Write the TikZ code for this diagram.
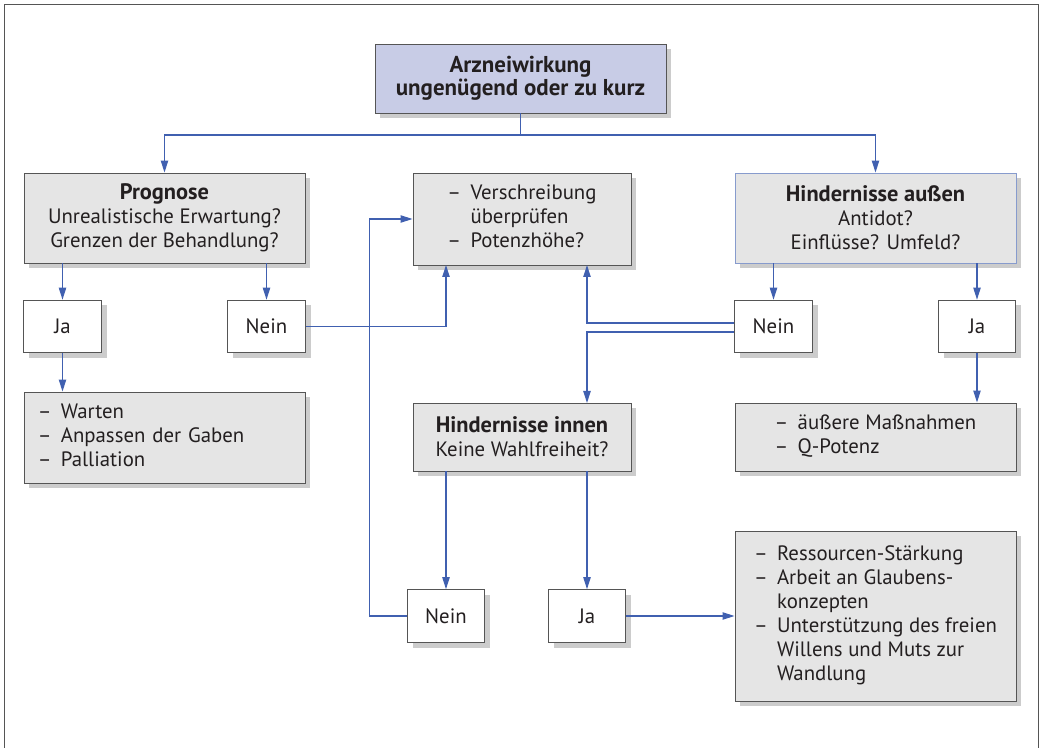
\documentclass[tikz,border=0pt]{standalone}
\usepackage{fontspec}
\setmainfont{PT Sans}
\usetikzlibrary{arrows.meta,shadows,calc}
\definecolor{lineblue}{RGB}{64,96,176}
\definecolor{boxgray}{RGB}{229,229,229}
\definecolor{lavender}{RGB}{200,204,230}
\definecolor{shadowgray}{RGB}{204,204,204}
\definecolor{edgegray}{RGB}{85,85,85}
\definecolor{edgeblue}{RGB}{135,155,205}
\definecolor{textdark}{RGB}{35,31,32}
\newcommand\hd[1]{{\fontsize{16.8}{18}\selectfont\bfseries #1}}
\begin{document}
\begin{tikzpicture}[x=0.75pt,y=-0.75pt,
  every node/.style={font=\fontsize{15.6}{18}\selectfont, text=textdark},
  box/.style={draw=edgegray, line width=0.7pt, inner sep=0pt, align=center,
    drop shadow={shadow xshift=4pt, shadow yshift=-4pt, fill=shadowgray, opacity=1}},
  graybox/.style={box, fill=boxgray},
  whitebox/.style={box, fill=white, minimum width=58pt, minimum height=39.5pt},
  conn/.style={draw=lineblue, line width=0.9pt},
  arr/.style={conn, -{Triangle[width=5.5pt,length=9pt]}}
]
\useasboundingbox (0,0) rectangle (1040,748);
\draw[edgegray, line width=1.2pt] (4.5,760) -- (4.5,4.5) -- (1038.5,4.5) -- (1038.5,760);

% boxes
\node[box, fill=lavender, minimum width=218.25pt, minimum height=51.75pt, font=\fontsize{17.2}{17.5}\selectfont\bfseries] (top) at (520.5,78.5)
  {Arzneiwirkung\\ungenügend oder zu kurz};
\node[graybox, minimum width=210.75pt, minimum height=67.5pt] (prog) at (164.5,218)
  {\hd{Prognose}\\Unrealistische Erwartung?\\Grenzen der Behandlung?};
\node[graybox, minimum width=163.5pt, minimum height=69pt] (vers) at (522,219)
  {\begin{tabular}{@{}l@{\hspace{7pt}}l@{}}–&Verschreibung\\&überprüfen\\–&Potenzhöhe?\end{tabular}};
\node[graybox, draw=edgeblue, minimum width=210.75pt, minimum height=67.5pt] (aus) at (875.5,218)
  {\hd{Hindernisse außen}\\Antidot?\\Einflüsse? Umfeld?};
\node[whitebox] (jaL) at (62.5,326.5) {Ja};
\node[whitebox] (neinL) at (266.5,326.5) {Nein};
\node[whitebox] (neinR) at (773.5,326.5) {Nein};
\node[whitebox] (jaR) at (977,326.5) {Ja};
\node[graybox, minimum width=210.75pt, minimum height=68.25pt, align=left, text width=190pt] (wart) at (164.5,437.5)
  {\begin{tabular}{@{}l@{\hspace{7pt}}l@{}}–&Warten\\–&Anpassen der Gaben\\–&Palliation\end{tabular}};
\node[graybox, minimum width=163.5pt, minimum height=51pt] (innen) at (522,437)
  {\hd{Hindernisse innen}\\Keine Wahlfreiheit?};
\node[graybox, minimum width=210.75pt, minimum height=51pt] (aeuss) at (875.5,437)
  {\begin{tabular}{@{}l@{\hspace{7pt}}l@{}}–&äußere Maßnahmen\\–&Q-Potenz\end{tabular}};
\node[whitebox] (neinB) at (446,616) {Nein};
\node[whitebox] (jaB) at (587,616) {Ja};
\node[graybox, minimum width=210.75pt, minimum height=127.5pt] (ress) at (875.5,616)
  {\begin{tabular}{@{}l@{\hspace{7pt}}l@{}}–&Ressourcen-Stärkung\\–&Arbeit an Glaubens-\\&konzepten\\–&Unterstützung des freien\\&Willens und Muts zur\\&Wandlung\end{tabular}};

% helper coordinates
\coordinate (jT) at (520.5,135);
\coordinate (vB1) at (446,265);
\coordinate (vB2) at (587,265);
\coordinate (iT) at (587,403);

% connectors
\draw[conn] (top) -- (jT);
\draw[arr] (jT) -| (prog);
\draw[arr] (jT) -| (aus);
\draw[arr] (prog.south -| jaL) -- (jaL);
\draw[arr] (prog.south -| neinL) -- (neinL);
\draw[arr] (jaL) -- (jaL |- wart.north);
\draw[arr] (neinL.east) -| (vB1);
\draw[arr] (neinB.west) -- ++(-37,0) |- (vers.west);
\draw[arr] ([yshift=2.6pt]neinR.west) -| (vB2);
\draw[arr] ([yshift=-4.1pt]neinR.west) -| (iT);
\draw[arr] (aus.south -| neinR) -- (neinR);
\draw[arr] (aus.south -| jaR) -- (jaR);
\draw[arr] (jaR) -- (jaR |- aeuss.north);
\draw[arr] (innen.south -| neinB) -- (neinB);
\draw[arr] (innen.south -| jaB) -- (jaB);
\draw[arr] (jaB) -- (ress);
\end{tikzpicture}
\end{document}
